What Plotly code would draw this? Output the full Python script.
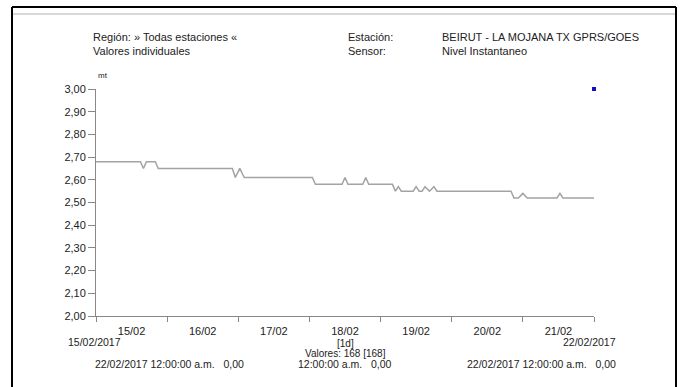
import plotly.graph_objects as go

# nivel instantaneo, BEIRUT - LA MOJANA (vertices)
times = [
    "2017-02-15 00:00", "2017-02-15 15:00", "2017-02-15 16:00", "2017-02-15 17:00",
    "2017-02-15 20:00", "2017-02-15 21:00", "2017-02-16 22:00", "2017-02-16 23:00",
    "2017-02-17 00:30", "2017-02-17 02:00", "2017-02-18 01:00", "2017-02-18 02:00",
    "2017-02-18 11:00", "2017-02-18 12:00", "2017-02-18 13:00", "2017-02-18 18:00",
    "2017-02-18 19:00", "2017-02-18 20:00", "2017-02-19 04:00", "2017-02-19 05:00",
    "2017-02-19 06:00", "2017-02-19 07:00", "2017-02-19 11:00", "2017-02-19 12:00",
    "2017-02-19 13:00", "2017-02-19 14:00", "2017-02-19 15:00", "2017-02-19 16:30",
    "2017-02-19 18:00", "2017-02-19 19:00", "2017-02-20 20:00", "2017-02-20 21:00",
    "2017-02-20 22:30", "2017-02-21 00:00", "2017-02-21 01:30", "2017-02-21 11:30",
    "2017-02-21 12:30", "2017-02-21 13:30", "2017-02-22 00:00",
]
nivel = [
    2.68, 2.68, 2.65, 2.68,
    2.68, 2.65, 2.65, 2.61,
    2.65, 2.61, 2.61, 2.58,
    2.58, 2.61, 2.58, 2.58,
    2.61, 2.58, 2.58, 2.55,
    2.57, 2.55, 2.55, 2.57,
    2.55, 2.55, 2.57, 2.55,
    2.57, 2.55, 2.55, 2.52,
    2.52, 2.54, 2.52, 2.52,
    2.54, 2.52, 2.52,
]
marker_t = ["2017-02-22 00:00"]
marker_v = [3.00]

W, H = 683, 387
FONT = "Liberation Sans, Arial"


def px(x):
    return x / W


def py(y):
    return 1 - y / H


fig = go.Figure()
fig.add_trace(go.Scatter(x=times, y=nivel, mode="lines",
                         line=dict(color="#a3a3a3", width=1.5), hoverinfo="x+y"))
fig.add_trace(go.Scatter(x=marker_t, y=marker_v, mode="markers", cliponaxis=False,
                         marker=dict(color="#1010c8", size=4, symbol="square")))

fig.update_layout(
    width=W, height=H,
    margin=dict(l=0, r=0, t=0, b=0, pad=0),
    paper_bgcolor="white", plot_bgcolor="white",
    showlegend=False,
    separators=",.",
    font=dict(family=FONT, size=11, color="#222"),
    xaxis=dict(
        domain=[px(96), px(594)],
        range=["2017-02-15 00:00", "2017-02-22 00:00"],
        type="date", dtick=86400000, tick0="2017-02-15",
        tickformat="%d/%m", ticklabelmode="period",
        ticks="outside", ticklen=5, tickcolor="#888",
        showline=True, linecolor="#888", linewidth=1,
        showgrid=False, zeroline=False, automargin=False,
        tickfont=dict(size=11),
    ),
    yaxis=dict(
        domain=[py(316), py(89)],
        range=[2.0, 3.0], dtick=0.1, tickformat=".2f",
        ticks="outside", ticklen=7, tickcolor="#888",
        showline=True, linecolor="#888", linewidth=1,
        showgrid=False, zeroline=False, automargin=False,
        tickfont=dict(size=11),
    ),
)

# window frame
frame = dict(type="line", xref="paper", yref="paper", line=dict(color="black", width=2))
fig.add_shape(frame, x0=px(12), x1=px(12), y0=py(7), y1=0)
fig.add_shape(frame, x0=px(676), x1=px(676), y0=py(7), y1=0)
fig.add_shape(frame, x0=px(12), x1=px(676), y0=py(7), y1=py(7))
fig.add_shape(type="line", xref="paper", yref="paper", x0=px(13), x1=px(675),
              y0=py(14), y1=py(14), line=dict(color="#d8d8d8", width=2))

texts = [
    # x, y, text, anchor, size
    (91, 37, "Región: » Todas estaciones «", "left", 11),
    (91, 51, "Valores individuales", "left", 11),
    (346, 37, "Estación:", "left", 11),
    (346, 51, "Sensor:", "left", 11),
    (440, 37, "BEIRUT - LA MOJANA TX GPRS/GOES", "left", 11),
    (440, 51, "Nivel Instantaneo", "left", 11),
    (66, 342, "15/02/2017", "left", 10.5),
    (618, 342, "22/02/2017", "right", 10.5),
    (345, 343, "[1d]", "center", 10),
    (345, 353.5, "Valores: 168 [168]", "center", 10),
    (93, 364, "22/02/2017 12:00:00 a.m.   0,00", "left", 10.5),
    (345, 364, "12:00:00 a.m.   0,00", "center", 10.5),
    (465, 364, "22/02/2017 12:00:00 a.m.   0,00", "left", 10.5),
]
for x, y, t, a, s in texts:
    fig.add_annotation(x=px(x), y=py(y), xref="paper", yref="paper", text=t,
                       showarrow=False, xanchor=a, yanchor="middle",
                       font=dict(size=s))
fig.add_annotation(x=px(96), y=py(75), xref="paper", yref="paper", text="mt",
                   showarrow=False, xanchor="left", yanchor="middle",
                   font=dict(size=8))

# drop the default page margin so paper pixels line up with the window
fig.write_html("out.html", config={"displayModeBar": False},
               post_script="document.body.style.margin='0';")
